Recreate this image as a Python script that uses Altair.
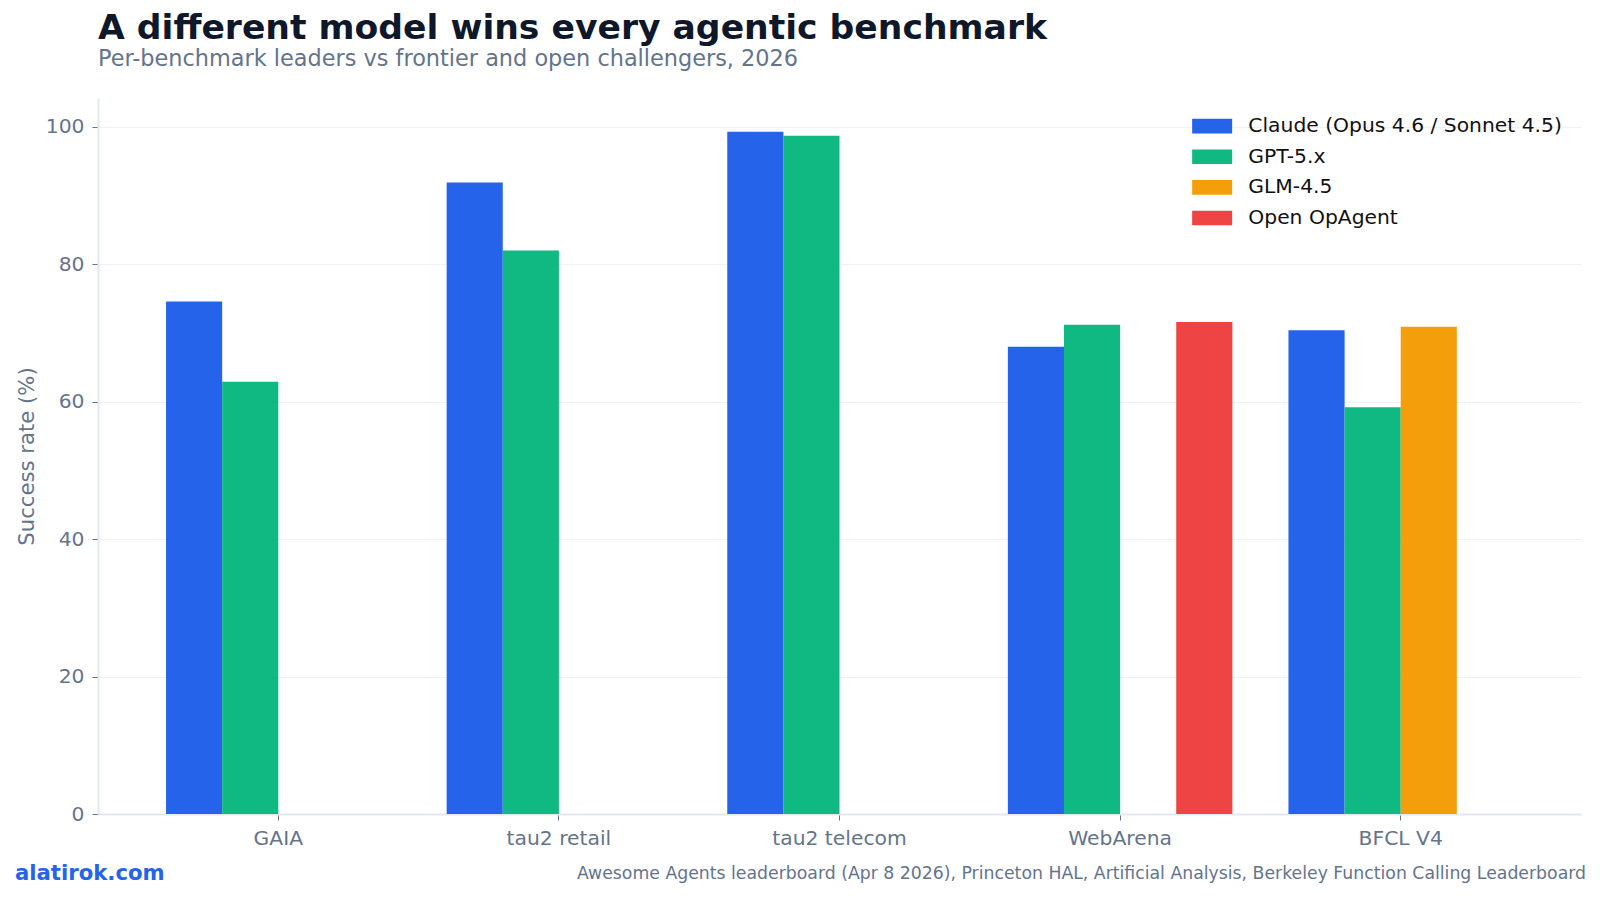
import altair as alt
import pandas as pd

benchmarks = ["GAIA", "tau2 retail", "tau2 telecom", "WebArena", "BFCL V4"]
series = ["Claude (Opus 4.6 / Sonnet 4.5)", "GPT-5.x", "GLM-4.5", "Open OpAgent"]
colors = ["#2563eb", "#10b981", "#f59e0b", "#ef4444"]

claude = [74.6, 91.9, 99.3, 68.0, 70.4]
gpt = [62.9, 82.0, 98.7, 71.2, 59.2]
glm = [None, None, None, None, 70.9]
opagent = [None, None, None, 71.6, None]

rows = []
for vals, s in zip([claude, gpt, glm, opagent], series):
    for b, v in zip(benchmarks, vals):
        if v is not None:
            rows.append({"benchmark": b, "model": s, "value": v})
df = pd.DataFrame(rows)

FONT = "DejaVu Sans"
GRAY = "#64748b"

W, H = 1483, 716

bars = alt.Chart(df).mark_bar().encode(
    x=alt.X("benchmark:N", sort=benchmarks,
            scale=alt.Scale(domain=benchmarks, paddingInner=0.2, paddingOuter=0.2425),
            axis=alt.Axis(title=None, labelAngle=0, labelFontSize=20.3, labelColor=GRAY,
                          labelFont=FONT, labelPadding=8, tickSize=6, tickColor=GRAY,
                          domainColor="#e2e8f0", domainWidth=2, grid=False)),
    xOffset=alt.XOffset("model:N", sort=series,
                        scale=alt.Scale(domain=series, paddingInner=0, paddingOuter=0)),
    y=alt.Y("value:Q", scale=alt.Scale(domain=[0, 104.2], nice=False, zero=True),
            axis=alt.Axis(title="Success rate (%)", values=[0, 20, 40, 60, 80, 100],
                          labelFontSize=20.3, labelColor=GRAY, labelFont=FONT,
                          labelPadding=8, tickSize=6, tickColor=GRAY,
                          domainColor="#e2e8f0", domainWidth=2,
                          gridColor="#eef1f6", gridWidth=1,
                          titleFontSize=21.2, titleColor=GRAY, titleFont=FONT,
                          titleFontWeight="normal", titlePadding=8)),
    color=alt.Color("model:N", sort=series,
                    scale=alt.Scale(domain=series, range=colors),
                    legend=alt.Legend(title=None, orient="none", legendX=1104, legendY=18,
                                      symbolType="M-2,-0.73L2,-0.73L2,0.73L-2,0.73Z",
                                      symbolSize=400, symbolStrokeWidth=0,
                                      labelFontSize=20.3, labelFont=FONT, labelColor="#111111",
                                      labelLimit=0, labelOffset=26, rowPadding=9.6)),
)

footer_left = alt.Chart(pd.DataFrame({"t": ["alatirok.com"]})).mark_text(
    align="left", baseline="alphabetic", font=FONT, fontSize=21.2, fontWeight="bold",
    color="#2563eb"
).encode(text="t:N", x=alt.value(-83), y=alt.value(782))

footer_right = alt.Chart(pd.DataFrame({"t": [
    "Awesome Agents leaderboard (Apr 8 2026), Princeton HAL, Artificial Analysis, Berkeley Function Calling Leaderboard"
]})).mark_text(
    align="right", baseline="alphabetic", font=FONT, fontSize=17.3, color=GRAY
).encode(text="t:N", x=alt.value(1488), y=alt.value(781))

chart = alt.layer(bars, footer_left, footer_right).properties(
    width=W, height=H,
    background="white",
    title=alt.Title(
        "A different model wins every agentic benchmark",
        subtitle="Per-benchmark leaders vs frontier and open challengers, 2026",
        anchor="start", frame="group", font=FONT, fontSize=34.6, fontWeight="bold",
        color="#0f172a", subtitleFont=FONT, subtitleFontSize=22.4, subtitleColor=GRAY,
        subtitlePadding=1, offset=27,
    ),
    autosize=alt.AutoSizeParams(type="none"),
    padding={"left": 98, "top": 98, "right": 19, "bottom": 85},
).configure_view(strokeWidth=0, stroke="transparent")

chart.save("out.html", embed_options={"renderer": "svg", "actions": False})
